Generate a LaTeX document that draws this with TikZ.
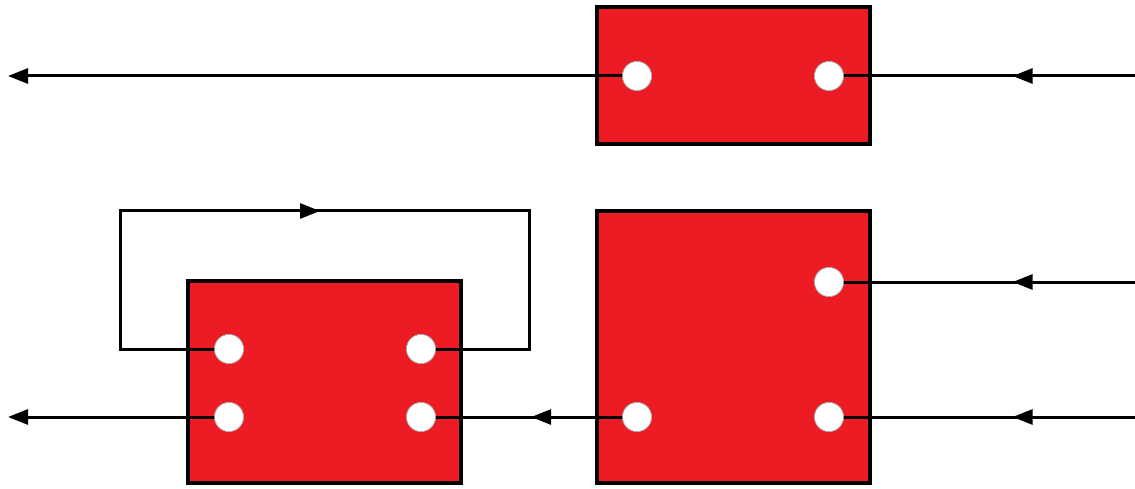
\documentclass[tikz,border=0pt]{standalone}
\usetikzlibrary{arrows.meta,decorations.markings}
\definecolor{boxred}{HTML}{ED1C24}
\tikzset{
  x=1pt, y=-1pt,
  block/.style={draw=black, line width=3.5pt, fill=boxred},
  port/.style={circle, fill=white, draw=gray!70, line width=0.6pt, minimum size=29pt, inner sep=0pt},
  wire/.style={line width=3pt},
  tip/.style={-{Triangle[length=20pt,width=15pt]}},
  midarrow/.style={postaction={decorate, decoration={markings,
      mark=at position #1 with {\arrow{Triangle[length=20pt,width=15pt]}}}}}
}
\begin{document}
\begin{tikzpicture}
\useasboundingbox (0,0) rectangle (1135,489);

% blocks
\draw[block] (597,7) rectangle (870,144);
\draw[block] (597,211) rectangle (870,483);
\draw[block] (188,281) rectangle (461,483);

% ports
\node[port] (t1) at (637,76) {};
\node[port] (t2) at (829,76) {};
\node[port] (r1) at (829,282) {};
\node[port] (r2) at (637,417) {};
\node[port] (r3) at (829,417) {};
\node[port] (l1) at (229,349) {};
\node[port] (l2) at (421,349) {};
\node[port] (l3) at (229,417) {};
\node[port] (l4) at (421,417) {};

% free ends
\coordinate (outT) at (8,76);
\coordinate (outB) at (8,417);
\coordinate (inT) at (1135,76);
\coordinate (inR1) at (1135,282);
\coordinate (inR2) at (1135,417);

% wires (drawn beneath the ports)
\draw[wire, tip] (t1.center) -- (outT);
\draw[wire, midarrow=0.40] (inT) -- (t2.center);
\draw[wire, midarrow=0.40] (inR1) -- (r1.center);
\draw[wire, midarrow=0.40] (inR2) -- (r3.center);
\draw[wire, midarrow=0.49] (r2.center) -- (l4.center);
\draw[wire, tip] (l3.center) -- (outB);
\draw[wire, midarrow=447pt] (l1.center) -- (120,349) -- (120,211) -- (529,211) -- (529,349) -- (l2.center);

% ports redrawn on top of the wires
\foreach \p in {t1,t2,r1,r2,r3,l1,l2,l3,l4}
  \node[port] at (\p) {};
\end{tikzpicture}
\end{document}
